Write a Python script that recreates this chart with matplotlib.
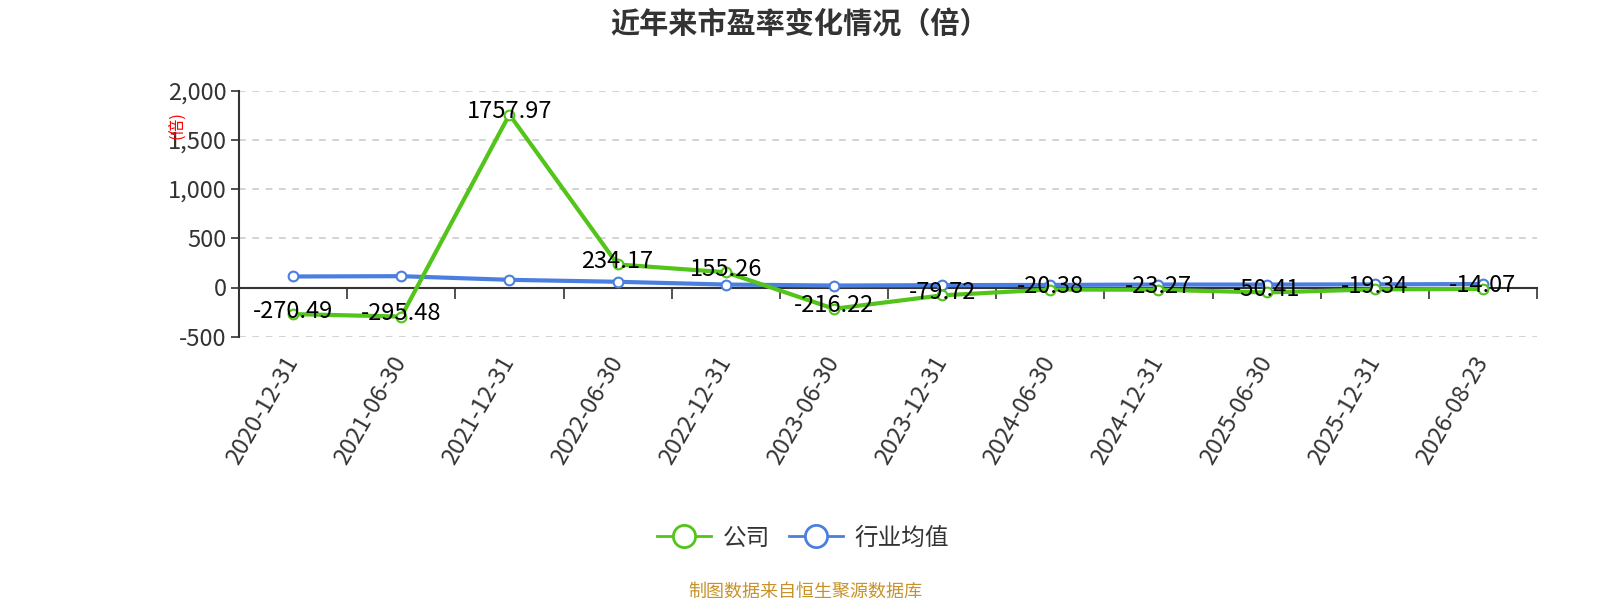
import matplotlib
matplotlib.use("Agg")
import matplotlib.pyplot as plt
from matplotlib.ticker import FuncFormatter, FixedLocator
from matplotlib.lines import Line2D
import matplotlib.transforms as mtransforms

plt.rcParams['font.family'] = ['Noto Sans CJK SC', 'DejaVu Sans']

dates = ["2020-12-31", "2021-06-30", "2021-12-31", "2022-06-30", "2022-12-31",
         "2023-06-30", "2023-12-31", "2024-06-30", "2024-12-31", "2025-06-30",
         "2025-12-31", "2026-08-23"]
company = [-270.49, -295.48, 1757.97, 234.17, 155.26, -216.22, -79.72,
           -20.38, -23.27, -50.41, -19.34, -14.07]
industry = [112, 115, 78, 58, 30, 20, 24, 26, 30, 30, 32, 35]
yticks = [-500, 0, 500, 1000, 1500, 2000]

green = '#52c41a'
blue = '#4a7fe0'

W, H = 1600, 600
fig = plt.figure(figsize=(16, 6), dpi=100)
L, R, T, B = 239, 1537, 90.7, 336.7
ax = fig.add_axes([L/W, 1-B/H, (R-L)/W, (B-T)/H])

x = list(range(len(dates)))
ax.plot(x, industry, color=blue, lw=3, marker='o', ms=7, mfc='white',
        mec=blue, mew=1.5, zorder=3)
ax.plot(x, company, color=green, lw=3, marker='o', ms=7, mfc='white',
        mec=green, mew=1.5, zorder=4)

off = mtransforms.offset_copy(ax.transData, fig=fig, x=0, y=3, units='dots')
for xi, v in zip(x, company):
    ax.text(xi, v, f"{v:.2f}", transform=off, ha='center', va='center',
            fontsize=17, color='black', zorder=6)

ax.set_xlim(-0.5, len(dates) - 0.5)
ax.set_ylim(-500, 2000)
ax.yaxis.set_major_locator(FixedLocator(yticks))
ax.yaxis.set_major_formatter(FuncFormatter(lambda v, p: f"{int(v):,}"))
for t in yticks:
    if t != 0:
        ax.axhline(t, color='#cccccc', lw=1.2, ls=(0, (4, 4)), zorder=1)

for s in ['top', 'right']:
    ax.spines[s].set_visible(False)
ax.spines['bottom'].set_position(('data', 0))
ax.spines['bottom'].set_color('#333333')
ax.spines['bottom'].set_linewidth(1.5)
ax.spines['left'].set_color('#333333')
ax.spines['left'].set_linewidth(1.5)

ax.set_xticks([i + 0.5 for i in x[:-1]] + [-0.5, len(dates) - 0.5], minor=False)
ax.set_xticklabels([])
ax.tick_params(axis='x', which='major', length=8, width=1.2, color='#333333', direction='out')
ax.set_xticks(x, minor=True)
ax.set_xticklabels(dates, minor=True)
ax.tick_params(axis='x', which='minor', length=0, labelsize=17, labelcolor='#333333', pad=51)
for lbl in ax.get_xticklabels(minor=True):
    lbl.set_rotation(60)
    lbl.set_ha('right')
    lbl.set_va('center')
    lbl.set_rotation_mode('anchor')
ax.tick_params(axis='y', length=6, width=1.2, color='#333333', labelsize=17,
               labelcolor='#333333', pad=3)

fig.text(0.5, 1-24/H, "近年来市盈率变化情况（倍）", ha='center', va='center',
         fontsize=21, fontweight='bold', color='#333333')
fig.text(177/W, 1-125/H, "(倍)", ha='center', va='center', rotation=90,
         fontsize=12, color='red')

handles = [Line2D([0], [0], color=green, lw=2, marker='o', ms=16, mfc='white', mec=green, mew=2),
           Line2D([0], [0], color=blue, lw=2, marker='o', ms=16, mfc='white', mec=blue, mew=2)]
fig.legend(handles, ["公司", "行业均值"], loc='center', bbox_to_anchor=(803/W, 1-538/H),
           ncol=2, frameon=False, fontsize=17, handlelength=2.3, columnspacing=0.8,
           handletextpad=0.5, labelcolor='#333333')

fig.text(805/W, 1-592/H, "制图数据来自恒生聚源数据库", ha='center', va='center',
         fontsize=13, color='#c8922a')

fig.savefig("out.png", dpi=100)
